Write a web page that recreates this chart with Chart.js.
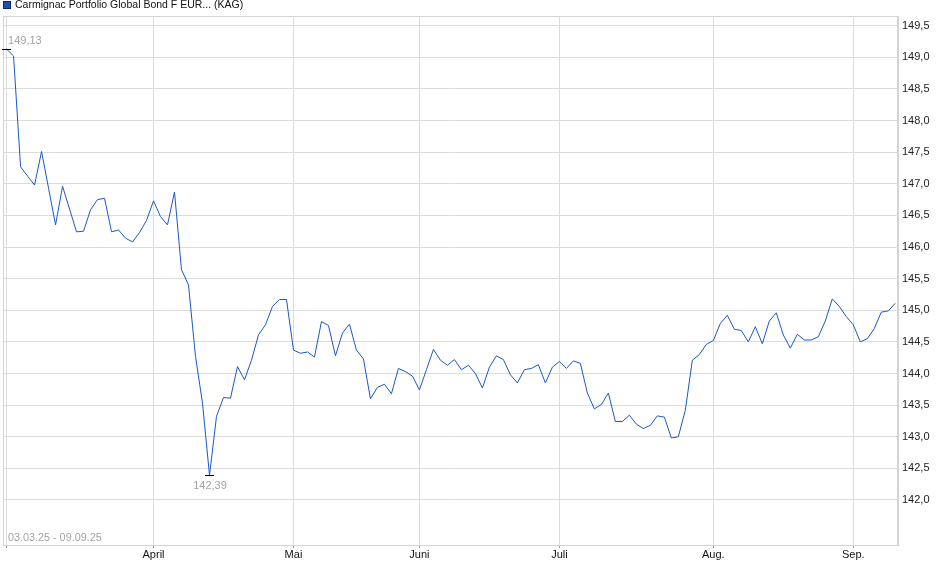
<!DOCTYPE html>
<html>
<head>
<meta charset="utf-8">
<script src="https://cdn.jsdelivr.net/npm/chart.js@4"></script>
<style>
html,body{margin:0;padding:0;background:#fff;}
#wrap{width:940px;height:579px;position:relative;}
</style>
</head>
<body>
<div id="wrap"><canvas id="c" width="940" height="579"></canvas></div>
<script>
// ---- data ----
const seriesName = 'Carmignac Portfolio Global Bond F EUR... (KAG)';
const dateRangeLabel = '03.03.25 - 09.09.25';
// trading-day index 0..127 (03.03.25 .. 09.09.25)
const values = [
 149.13,149.02,147.27,147.12,146.98,147.51,146.93,146.35,146.96,146.60,
 146.24,146.25,146.59,146.75,146.77,146.24,146.27,146.14,146.08,146.23,
 146.42,146.73,146.48,146.35,146.87,145.64,145.40,144.27,143.53,142.39,
 143.32,143.62,143.61,144.11,143.90,144.21,144.61,144.77,145.06,145.17,
 145.17,144.37,144.32,144.34,144.26,144.82,144.76,144.28,144.64,144.78,
 144.37,144.23,143.60,143.78,143.83,143.68,144.08,144.03,143.96,143.74,
 144.06,144.38,144.21,144.13,144.22,144.06,144.13,144.00,143.77,144.10,
 144.28,144.22,143.98,143.85,144.06,144.08,144.14,143.85,144.10,144.19,
 144.08,144.20,144.16,143.69,143.44,143.51,143.69,143.24,143.24,143.34,
 143.20,143.13,143.18,143.33,143.31,142.98,143.00,143.42,144.21,144.30,
 144.46,144.52,144.79,144.92,144.70,144.68,144.50,144.74,144.47,144.83,
 144.96,144.61,144.40,144.62,144.53,144.53,144.58,144.83,145.18,145.06,
 144.90,144.77,144.50,144.55,144.71,144.97,144.99,145.11
];
const monthTickIndex = [0, 21, 41, 59, 79, 101, 121];
const monthTickLabels = ['', 'April', 'Mai', 'Juni', 'Juli', 'Aug.', 'Sep.'];
const yTickValues = [142.0,142.5,143.0,143.5,144.0,144.5,145.0,145.5,146.0,146.5,147.0,147.5,148.0,148.5,149.0,149.5];

// ---- chart ----
const FONT = '"Liberation Sans", Arial, sans-serif';
const fmt = v => v.toFixed(2).replace('.', ',');

const decor = {
  id: 'decor',
  beforeDatasetsDraw(chart) {
    const {ctx, chartArea: a} = chart;
    ctx.save();
    ctx.strokeStyle = '#d4d4d4';
    ctx.lineWidth = 1;
    ctx.strokeRect(Math.round(a.left) + 0.5, Math.round(a.top) + 0.5,
                   Math.round(a.right - a.left) - 1, Math.round(a.bottom - a.top));
    ctx.restore();
  },
  afterDatasetsDraw(chart) {
    const {ctx, chartArea: a, scales: {x, y}} = chart;
    ctx.save();
    // max / min markers
    let iMax = 0, iMin = 0;
    values.forEach((v, i) => { if (v > values[iMax]) iMax = i; if (v < values[iMin]) iMin = i; });
    ctx.strokeStyle = '#000';
    ctx.lineWidth = 1;
    const mark = (i) => {
      const px = x.getPixelForValue(i), py = Math.round(y.getPixelForValue(values[i])) + 0.5;
      ctx.beginPath(); ctx.moveTo(px - 4.5, py); ctx.lineTo(px + 4.5, py); ctx.stroke();
      return [px, py];
    };
    ctx.font = '11px ' + FONT;
    ctx.fillStyle = '#a3a3a3';
    ctx.textBaseline = 'middle';
    const [mxX, mxY] = mark(iMax);
    ctx.textAlign = 'left';
    ctx.fillText(fmt(values[iMax]), mxX + 1.5, mxY - 8.5);
    const [mnX, mnY] = mark(iMin);
    ctx.textAlign = 'center';
    ctx.fillText(fmt(values[iMin]), mnX + 0.5, mnY + 10);
    // date range
    ctx.font = '10.8px ' + FONT;
    ctx.textAlign = 'left';
    ctx.fillText(dateRangeLabel, a.left + 5, a.bottom - 6.5);
    // legend / title
    ctx.fillStyle = '#1f4fb5';
    ctx.fillRect(3, 1, 8, 8);
    ctx.strokeStyle = '#0d2a66';
    ctx.strokeRect(3.5, 1.5, 7, 7);
    ctx.fillStyle = '#111';
    ctx.font = '10.5px ' + FONT;
    ctx.fillText(seriesName, 15, 5.5);
    ctx.restore();
  }
};

new Chart(document.getElementById('c'), {
  type: 'line',
  data: {
    datasets: [{
      label: seriesName,
      data: values.map((v, i) => ({x: i, y: v})),
      borderColor: '#1a57c6',
      borderWidth: 1,
      pointRadius: 0,
      tension: 0,
      fill: false
    }]
  },
  options: {
    responsive: false,
    animation: false,
    devicePixelRatio: 1,
    layout: {padding: {left: 3, top: 16, right: 0, bottom: 0}},
    plugins: {legend: {display: false}, tooltip: {enabled: false}},
    scales: {
      x: {
        type: 'linear',
        min: -0.51,
        max: 127.39,
        afterBuildTicks: s => { s.ticks = monthTickIndex.map(v => ({value: v})); },
        afterFit: s => { s.height = 34; },
        grid: {color: '#dcdcdc', tickLength: 3, tickColor: '#9a9a9a'},
        border: {color: '#d4d4d4'},
        ticks: {
          autoSkip: false, maxRotation: 0, padding: 0,
          color: '#111', font: {size: 11, family: FONT},
          callback: v => monthTickLabels[monthTickIndex.indexOf(v)] ?? ''
        }
      },
      y: {
        type: 'linear',
        position: 'right',
        min: 141.288,
        max: 149.653,
        afterBuildTicks: s => { s.ticks = yTickValues.map(v => ({value: v})); },
        afterFit: s => { s.width = 42; },
        grid: {color: '#dcdcdc', drawTicks: false},
        border: {color: '#d4d4d4'},
        ticks: {
          padding: 4, color: '#222', font: {size: 11, family: FONT},
          callback: v => v.toFixed(1).replace('.', ',')
        }
      }
    }
  },
  plugins: [decor]
});
</script>
</body>
</html>
